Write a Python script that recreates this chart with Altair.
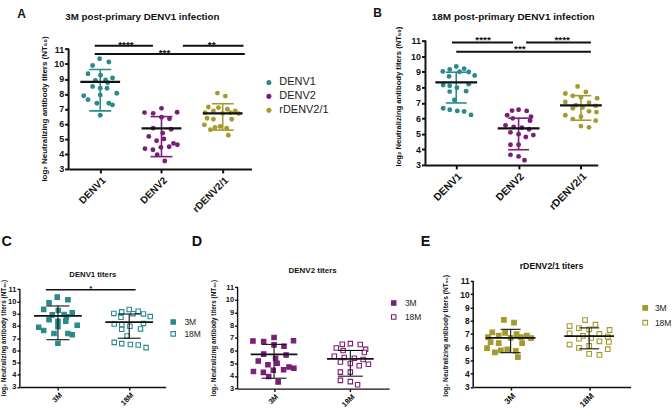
import altair as alt
import pandas as pd

FONT = "Liberation Sans"
INK = "#111111"
TEAL = "#2a8a8b"
PURPLE = "#7b1e79"
OLIVE = "#a69a2f"

groups = ["DENV1", "DENV2", "rDENV2/1"]
group_colors = [TEAL, PURPLE, OLIVE]
periods = ["3M", "18M"]
y_ticks = [3, 4, 5, 6, 7, 8, 9, 10, 11]
y_title = "log₂ Neutralizing antibody titers (NT₅₀)"

# ---- individual log2 NT50 titers, 3 months post infection (panel A, "3M" in C-E)
m3_denv1 = [10.35, 10.13, 9.90, 9.35, 9.25, 9.07, 8.93, 8.90, 8.75, 8.50,
            8.38, 8.38, 8.05, 7.93, 7.88, 7.62, 7.38, 7.38, 7.27, 6.58]
m3_denv1_dx = [-0.01, 0.14, -0.125, -0.20, 0.005, 0.20, 0.087, -0.08, 0.12, -0.125,
               0.0, 0.11, 0.27, 0.0, -0.27, -0.20, -0.055, 0.14, 0.20, 0.0]
m3_denv2 = [7.04, 6.78, 6.76, 6.71, 6.45, 6.34, 5.72, 5.65, 5.39, 5.17,
            5.00, 4.88, 4.70, 4.61, 4.48, 4.44, 4.35, 4.28, 3.95, 3.53]
m3_denv2_dx = [0.0, 0.255, -0.277, -0.136, 0.0, 0.13, -0.136, 0.158, 0.02, -0.207,
               0.04, -0.08, 0.196, 0.26, 0.125, -0.01, -0.27, -0.14, -0.07, 0.054]
m3_rdenv = [8.06, 7.86, 7.13, 7.09, 6.98, 6.87, 6.87, 6.76, 6.76, 6.71,
            6.69, 6.38, 6.31, 6.31, 5.94, 5.83, 5.76, 5.72, 5.62, 5.25]
m3_rdenv_dx = [-0.087, 0.043, -0.234, -0.07, 0.076, 0.206, -0.152, -0.288, 0.13, 0.0,
               0.26, -0.255, -0.152, 0.147, -0.30, -0.043, -0.125, 0.065, -0.2, 0.092]

# ---- 18 months post infection (panel B, "18M" in C-E)
m18_denv1 = [9.34, 9.20, 9.15, 9.02, 9.00, 8.98, 8.76, 8.70, 8.20, 8.15,
             8.10, 7.97, 7.75, 7.72, 7.18, 6.65, 6.55, 6.48, 6.44, 6.22]
m18_denv1_dx = [0.0, 0.126, -0.105, -0.216, 0.053, 0.2, 0.295, -0.116, 0.2, -0.21,
                -0.105, 0.01, 0.158, -0.105, -0.03, -0.21, -0.105, 0.016, 0.126, 0.237]
m18_denv2 = [6.55, 6.50, 6.48, 6.20, 6.10, 6.00, 5.85, 5.55, 5.45, 5.40,
             5.30, 5.10, 4.98, 4.92, 4.80, 4.30, 4.30, 3.65, 3.55, 3.30]
m18_denv2_dx = [0.0, -0.105, 0.13, -0.184, 0.2, -0.095, 0.184, -0.21, -0.08, 0.053,
                0.168, -0.13, 0.0, 0.237, 0.116, -0.13, 0.0, -0.13, 0.0, 0.095]
m18_rdenv = [8.05, 7.70, 7.60, 7.45, 7.35, 7.30, 7.05, 7.00, 6.85, 6.80,
             6.70, 6.65, 6.45, 6.40, 6.20, 6.10, 5.95, 5.85, 5.50, 5.42]
m18_rdenv_dx = [-0.053, 0.08, -0.25, -0.13, 0.0, 0.26, -0.25, 0.13, -0.08, 0.237,
                0.026, -0.13, 0.13, 0.25, -0.25, 0.0, -0.13, 0.237, 0.0, 0.13]

# ---- centre line and whiskers (DENV1, DENV2, rDENV2/1)
m3_center = [8.81, 5.70, 6.71]
m3_lower = [6.87, 3.82, 5.59]
m3_upper = [9.63, 6.49, 7.35]
m18_center = [8.31, 5.35, 6.84]
m18_lower = [6.99, 3.98, 5.88]
m18_upper = [8.97, 6.01, 7.46]

# ---- significance brackets
a_sig_text = ["****", "**", "***"]
a_sig_from = [0.91, 2.35, 0.91]
a_sig_to = [1.86, 3.34, 3.36]
a_sig_y = [11.22, 11.22, 10.67]
a_sig_tx = [1.42, 2.82, 2.05]
b_sig_text = ["****", "****", "***"]
b_sig_from = [0.93, 2.12, 1.0]
b_sig_to = [1.91, 3.16, 3.16]
b_sig_y = [10.89, 10.89, 10.28]
b_sig_tx = [1.43, 2.70, 2.02]
c_sig_text = ["*"]
c_sig_from = [0.83]
c_sig_to = [2.09]
c_sig_y = [10.95]
c_sig_tx = [1.46]


def points_df(names, values, offsets):
    rows = []
    for i, (name, vals, dxs) in enumerate(zip(names, values, offsets)):
        for v, d in zip(vals, dxs):
            rows.append({"group": name, "pos": i + 1 + d, "val": v})
    return pd.DataFrame(rows)


def summary_df(names, center, lower, upper):
    return pd.DataFrame({"group": names, "pos": list(range(1, len(names) + 1)),
                         "center": center, "lower": lower, "upper": upper})


def sig_df(text, x1, x2, y, tx):
    return pd.DataFrame({"label": text, "x1": x1, "x2": x2, "y": y, "tx": tx})


ONE = pd.DataFrame({"k": [0]})


def label(text, xy, size):
    return (alt.Chart(ONE).mark_text(text=text, font=FONT, fontWeight="bold", fontSize=size,
                                     align="center", baseline="middle", color=INK)
            .encode(x=alt.value(xy[0]), y=alt.value(xy[1])))


def frame(bx):
    # invisible extent of a panel (drives the spacing between panels)
    return (alt.Chart(ONE).mark_rule(opacity=0, strokeWidth=0.01)
            .encode(x=alt.value(bx[0]), y=alt.value(bx[1]),
                    x2=alt.value(bx[2]), y2=alt.value(bx[3])))


def panel(pts, summ, sig, cats, st, color_scale, legend, filled_circles):
    xs = alt.Scale(domain=st["xdom"], nice=False, zero=False)
    ys = alt.Scale(domain=st["ydom"], nice=False, zero=False)
    xaxis = alt.Axis(values=list(range(1, len(cats) + 1)),
                     labelExpr=f"{cats!r}[datum.value - 1]", title=None, grid=False,
                     domainColor=INK, domainWidth=st["lw"], tickColor=INK,
                     tickWidth=st["lw"], tickSize=st["tick"], labelAngle=-45,
                     labelAlign="right", labelBaseline="top", labelPadding=st["xlpad"],
                     labelFont=FONT, labelFontWeight="bold", labelFontSize=st["xlab"],
                     labelColor=INK, labelFlush=False, labelOverlap=False)
    yaxis = alt.Axis(values=y_ticks, title=y_title, grid=False, domain=False,
                     tickColor=INK, tickWidth=st["lw"], tickSize=st["tick"],
                     labelPadding=st["ylpad"], labelFont=FONT, labelFontWeight="bold",
                     labelFontSize=st["ylab"], labelColor=INK, titleFont=FONT,
                     titleFontWeight="bold", titleFontSize=st["ytitle"], titleColor=INK,
                     titleAngle=270, titleAlign="center", titleBaseline="middle",
                     titleX=st["ytx"], titleY=st["yty"])

    def X(f):
        return alt.X(f"{f}:Q", scale=xs, axis=xaxis)

    def Y(f):
        return alt.Y(f"{f}:Q", scale=ys, axis=yaxis)

    layers = [frame(st["box"]),
              alt.Chart(pd.DataFrame({"lo": [3], "hi": [11]}))
              .mark_rule(color=INK, strokeWidth=st["lw"])
              .encode(x=alt.value(0), y=Y("lo"), y2="hi")]
    if filled_circles:
        col = alt.Color("group:N", scale=color_scale, legend=legend)
        layers.append(alt.Chart(pts).mark_circle(size=st["pt"], opacity=1)
                      .encode(x=X("pos"), y=Y("val"), color=col))
        err_kw = {"color": col}
        err_mark = {}
    else:
        fill = alt.Fill("group:N", scale=color_scale, legend=legend)
        layers.append(alt.Chart(pts).mark_point(shape="square", size=st["pt"], filled=True,
                                                opacity=1, stroke=st["col"], strokeWidth=1.1)
                      .encode(x=X("pos"), y=Y("val"), fill=fill))
        err_kw = {}
        err_mark = {"color": INK}
    layers.append(alt.Chart(summ).mark_rule(strokeWidth=st["ew"], **err_mark)
                  .encode(x=X("pos"), y=Y("lower"), y2="upper", **err_kw))
    for f in ("lower", "upper"):
        layers.append(alt.Chart(summ).mark_tick(orient="horizontal", size=st["cap"],
                                                thickness=st["ew"], opacity=1, **err_mark)
                      .encode(x=X("pos"), y=Y(f), **err_kw))
    layers.append(alt.Chart(summ).mark_tick(orient="horizontal", size=st["mean"],
                                            thickness=st["mw"], color=INK, opacity=1)
                  .encode(x=X("pos"), y=Y("center")))
    if sig is not None:
        layers.append(alt.Chart(sig).mark_rule(strokeWidth=st["sw"], color=INK)
                      .encode(x=X("x1"), x2="x2", y=Y("y")))
        layers.append(alt.Chart(sig).mark_text(font=FONT, fontWeight="bold",
                                               fontSize=st["sigsize"], dy=st["sigdy"],
                                               baseline="alphabetic", align="center", color=INK)
                      .encode(x=X("tx"), y=Y("y"), text="label:N"))
    for text, xy, size in st["labels"]:
        layers.append(label(text, xy, size))
    return alt.layer(*layers).properties(width=st["w"], height=st["h"])


big = dict(lw=2, tick=4, xlab=10, ylab=9, ytitle=8, pt=24, ew=1.6, cap=22, mean=40,
           mw=2.2, sw=2, sigsize=10, sigdy=2.5, xlpad=2, ylpad=1)

# plot origins (px): A (68.3, 39.3)  B (426.7, 39.3)  C (20, 281)  D (238.3, 281)  E (475, 281)
stA = dict(big, w=184, h=129, xdom=[0.483, 3.47], ydom=[3, 11.557], ytx=-24.3, yty=68.2,
           box=(-30, -33, 302.4, 178),
           labels=[("3M post-primary DENV1 infection", (74.2, -23.3), 9.8)])
stB = dict(big, w=173.3, h=125, xdom=[0.506, 3.27], ydom=[3, 11], ytx=-27.2, yty=55.7,
           xlab=10.5, ytitle=7.7, cap=21, mean=42, sigdy=0.5,
           box=(-56, -33, 240, 178),
           labels=[("B", (-48.2, -27.6), 12),
                   ("18M post-primary DENV1 infection", (88.3, -23.8), 10)])

small = dict(lw=1.4, tick=3, xlab=7.5, ylab=7.5, ytitle=6.4, pt=20, ew=1.1, cap=23,
             mean=48, mw=1.8, sw=1.5, sigsize=8, sigdy=1, xlpad=1, ylpad=1)
stC = dict(small, w=146.7, h=106.7, xdom=[0.466, 2.512], ydom=[3, 11.675], ytx=-16.7,
           yty=57, col=TEAL, box=(-20, -50, 188.3, 125),
           labels=[("C", (-13.3, -39), 14.5), ("D", (178, -39.3), 14.5),
                   ("DENV1 titers", (73.3, -5.5), 7.8)])
stD = dict(small, w=152.4, h=108.3, xdom=[0.522, 2.508], ydom=[3, 11.494], ytx=-24.3,
           yty=57, col=PURPLE, cap=25, mean=47, box=(-30, -50, 203.7, 125),
           labels=[("E", (189.2, -39.3), 14.5), ("DENV2 titers", (75.5, -9.8), 8)])
stE = dict(small, w=158.3, h=106.7, xdom=[0.523, 2.527], ydom=[3, 11], ytx=-28,
           yty=54.7, col=OLIVE, xlab=8.5, ylab=8.5, ytitle=6.7, pt=22, cap=20, mean=50,
           lw=1.5, box=(-33, -50, 196, 125),
           labels=[("rDENV2/1 titers", (78.8, -15.5), 8.8)])

group_scale = alt.Scale(domain=groups, range=group_colors)
legend_A = alt.Legend(orient="none", legendX=196, legendY=36.5, title=None, symbolType="circle",
                      symbolSize=26, symbolStrokeWidth=0, labelFont=FONT, labelFontSize=11,
                      labelColor="#222222", rowPadding=2, labelOffset=5, padding=0)

ptsA = points_df(groups, [m3_denv1, m3_denv2, m3_rdenv], [m3_denv1_dx, m3_denv2_dx, m3_rdenv_dx])
ptsB = points_df(groups, [m18_denv1, m18_denv2, m18_rdenv],
                 [m18_denv1_dx, m18_denv2_dx, m18_rdenv_dx])
sumA = summary_df(groups, m3_center, m3_lower, m3_upper)
sumB = summary_df(groups, m18_center, m18_lower, m18_upper)

chartA = panel(ptsA, sumA, sig_df(a_sig_text, a_sig_from, a_sig_to, a_sig_y, a_sig_tx),
               groups, stA, group_scale, legend_A, True)
chartB = panel(ptsB, sumB, sig_df(b_sig_text, b_sig_from, b_sig_to, b_sig_y, b_sig_tx),
               groups, stB, group_scale, None, True)

# narrow lead-in cell carrying the panel letter "A" (origin aligned with panel C)
lead = alt.layer(frame((-5, -33, 18.3, 178)), label("A", (1.7, -26.8), 12)).properties(
    width=1, height=1)


def period_panel(i, st, sig, lx, ly, lsz, rowpad, loff):
    pts = points_df(periods, [[m3_denv1, m3_denv2, m3_rdenv][i], [m18_denv1, m18_denv2, m18_rdenv][i]],
                    [[m3_denv1_dx, m3_denv2_dx, m3_rdenv_dx][i],
                     [m18_denv1_dx, m18_denv2_dx, m18_rdenv_dx][i]])
    summ = summary_df(periods, [m3_center[i], m18_center[i]], [m3_lower[i], m18_lower[i]],
                      [m3_upper[i], m18_upper[i]])
    scale = alt.Scale(domain=periods, range=[st["col"], "white"])
    leg = alt.Legend(orient="none", legendX=lx, legendY=ly, title=None, symbolType="square",
                     symbolSize=st["pt"], symbolStrokeColor=st["col"], symbolStrokeWidth=1.1,
                     labelFont=FONT, labelFontSize=lsz, labelColor="#222222",
                     rowPadding=rowpad, labelOffset=loff, padding=0)
    return panel(pts, summ, sig, periods, st, scale, leg, False)


chartC = period_panel(0, stC, sig_df(c_sig_text, c_sig_from, c_sig_to, c_sig_y, c_sig_tx),
                      150, 37, 8.5, 2, 7)
chartD = period_panel(1, stD, None, 152.8, 18, 8.5, 4, 7)
chartE = period_panel(2, stE, None, 168.8, 22.8, 8.5, 5, 5.5)

top = alt.hconcat(lead, chartA, chartB, spacing=0).resolve_scale(color="independent")
bottom = alt.hconcat(chartC, chartD, chartE, spacing=0).resolve_scale(fill="independent")
chart = (alt.vconcat(top, bottom, spacing=13.7,
                     padding={"left": 0, "top": 5.7, "right": 0, "bottom": 0})
         .resolve_scale(color="independent", fill="independent")
         .configure_view(stroke=None))

chart.save("out.html", embed_options={"renderer": "svg", "actions": False})
